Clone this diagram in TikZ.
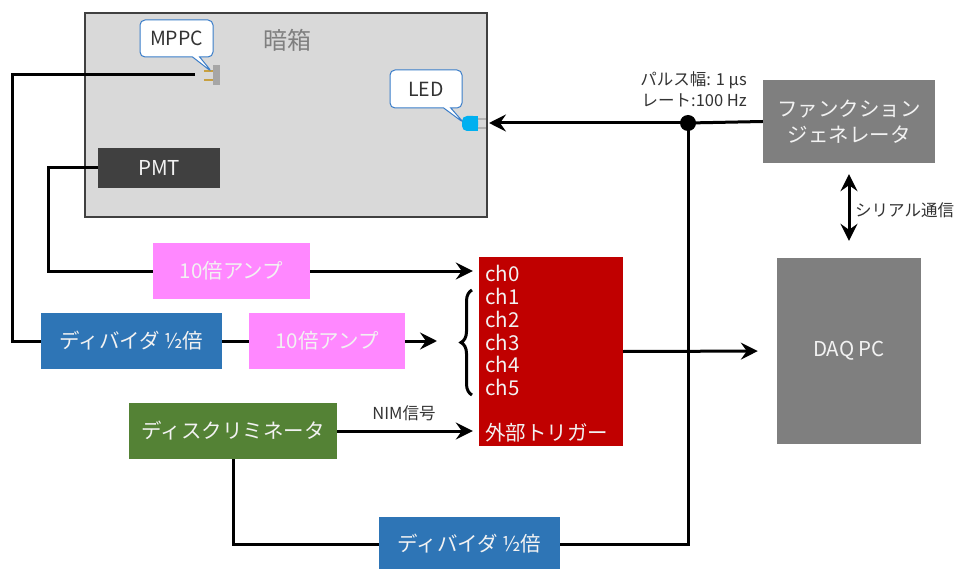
\documentclass[tikz,border=0pt]{standalone}
\usepackage{fontspec}
\setmainfont{Noto Sans CJK JP}
\usetikzlibrary{arrows.meta,calc,shapes.callouts,decorations.pathreplacing}
\definecolor{boxgray}{HTML}{D9D9D9}
\definecolor{edgegray}{HTML}{404040}
\definecolor{pmtgray}{HTML}{404040}
\definecolor{midgray}{HTML}{7F7F7F}
\definecolor{ampink}{HTML}{FF88FF}
\definecolor{divblue}{HTML}{2E75B6}
\definecolor{adcred}{HTML}{C00000}
\definecolor{discgreen}{HTML}{548235}
\definecolor{callblue}{HTML}{3A7DC9}
\definecolor{ledblue}{HTML}{00B0F0}
\definecolor{leadgold}{HTML}{C8A040}
\definecolor{textwhite}{HTML}{F2F2F2}
\definecolor{darktext}{HTML}{333333}
\begin{document}
\begin{tikzpicture}[x=1pt,y=-1pt,
  blk/.style={rectangle, inner sep=0pt, text=textwhite, font=\fontsize{20.5}{26}\selectfont, align=center},
  chlabel/.style={anchor=west, inner sep=0pt, text=textwhite, font=\fontsize{20.5}{24}\selectfont},
  wire/.style={line width=3pt, draw=black},
  arr/.style={wire, -{Stealth[length=17pt,width=17pt,inset=6pt]}},
  darr/.style={wire, {Stealth[length=17pt,width=17pt,inset=6pt]}-{Stealth[length=17pt,width=17pt,inset=6pt]}},
  callout/.style={rectangle callout, rounded corners=5pt, draw=callblue, line width=1pt, fill=white, text=darktext, font=\fontsize{19.5}{22}\selectfont, inner sep=0pt},
  small/.style={inner sep=0pt, text=darktext, font=\fontsize{16.5}{21}\selectfont}
]
\useasboundingbox (0,0) rectangle (955,569);

% dark box
\node[rectangle, fill=boxgray, draw=edgegray, line width=2pt, minimum width=402pt, minimum height=204pt, inner sep=0pt] (darkbox) at (286,115) {};
\node[inner sep=0pt, text=midgray, font=\fontsize{24}{28}\selectfont] (darklabel) at (287,40) {暗箱};

% MPPC component
\draw[leadgold, line width=1.5pt] (204,71) -- (213,71) (204,80) -- (213,80);
\fill[black!35] (213,65) rectangle (220,85);
\coordinate (mppcout) at (195,75);
\node[callout, minimum width=73pt, minimum height=37pt, callout absolute pointer={(212,72)}] (mppc) at (176.5,38.5) {MPPC};

% LED component
\draw[black!30, line width=1.5pt] (476,119) -- (486,119) (476,128) -- (486,128);
\fill[ledblue, rounded corners=5pt] (462,116) rectangle (478,131);
\fill[ledblue] (470,116) rectangle (478,131);
\node[callout, minimum width=72pt, minimum height=38pt, callout absolute pointer={(464,123)}] (led) at (426,89) {LED};

% PMT
\node[blk, fill=pmtgray, minimum width=122pt, minimum height=40pt] (pmt) at (159,168) {PMT};

% amps and dividers
\node[blk, fill=ampink, minimum width=157pt, minimum height=56pt] (amp1) at (231.5,271) {10倍アンプ};
\node[blk, fill=divblue, minimum width=181pt, minimum height=56pt] (div1) at (131.5,341) {ディバイダ ½倍};
\node[blk, fill=ampink, minimum width=156pt, minimum height=56pt] (amp2) at (327,341) {10倍アンプ};
\node[blk, fill=discgreen, minimum width=208pt, minimum height=56pt] (disc) at (233,431) {ディスクリミネータ};
\node[blk, fill=divblue, minimum width=181pt, minimum height=55pt] (div2) at (469.5,544) {ディバイダ ½倍};

% ADC
\node[blk, fill=adcred, minimum width=144pt, minimum height=188pt] (adc) at (551,351.5) {};
\node[chlabel] (ch0) at (485,273) {ch0};
\node[chlabel] (ch1) at (485,296) {ch1};
\node[chlabel] (ch2) at (485,319) {ch2};
\node[chlabel] (ch3) at (485,342) {ch3};
\node[chlabel] (ch4) at (485,364) {ch4};
\node[chlabel] (ch5) at (485,387) {ch5};
\node[chlabel] (trig) at (485,433) {外部トリガー};

% function generator, DAQ
\node[blk, fill=midgray, minimum width=172pt, minimum height=83pt] (fg) at (849,121.5) {ファンクション\\ジェネレータ};
\node[blk, fill=midgray, minimum width=144pt, minimum height=186pt] (daq) at (849,351) {DAQ PC};

% junction
\node[circle, fill=black, minimum size=16pt, inner sep=0pt] (junc) at (688,123) {};

% labels
\node[small, align=right, anchor=east] (pulse) at (747,89) {パルス幅: 1 μs\\レート:100 Hz};
\node[small] (nim) at (404,413) {NIM信号};
\node[small, anchor=west] (serial) at (855,210) {シリアル通信};

% brace
\draw[line width=3pt, decorate, decoration={brace, amplitude=11pt}] (472,395) -- (472,290) coordinate (bracetop);
\coordinate (bracetip) at (437,341);

% connectors
\draw[wire] (mppcout) -- (12,75) |- (div1.west);
\draw[wire] (pmt.west) -- (48,168) |- (amp1.west);
\draw[arr] (amp1.east) -- ($(adc.west |- amp1.east)+(-6,0)$);
\draw[wire] (div1.east) -- (amp2.west);
\draw[arr] (amp2.east) -- (bracetip);
\draw[arr] (disc.east) -- ($(adc.west |- disc.east)+(-6,0)$);
\draw[wire] (disc.south) |- (div2.west);
\draw[wire] (div2.east) -| (junc.center);
\draw[wire] (fg.west) -- (junc.center);
\draw[arr] (junc.center) -- ($(darkbox.east |- junc)+(1,0)$);
\draw[arr, shorten >=19pt] (adc.east) -- (daq.west);
\draw[darr, shorten <=11pt, shorten >=17pt] (fg.south) -- (daq.north);
\end{tikzpicture}
\end{document}
